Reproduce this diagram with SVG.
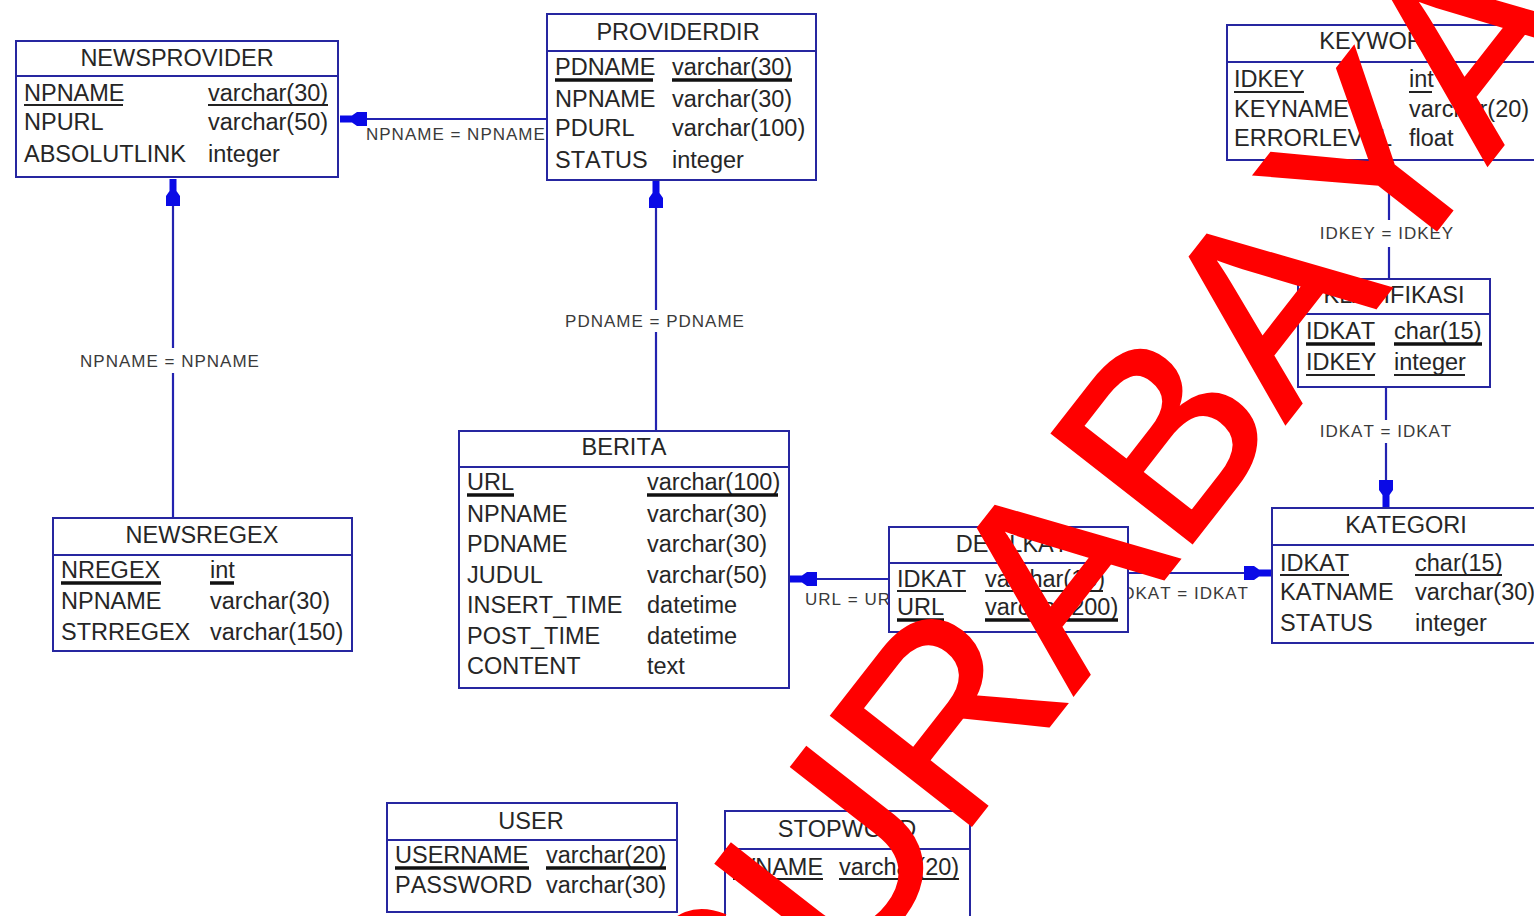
<svg xmlns="http://www.w3.org/2000/svg" width="1534" height="916" viewBox="0 0 1534 916">
  <defs>
    <style>
      text { font-kerning: none; }
      .box { fill: #ffffff; stroke: #2626a0; stroke-width: 2; }
      .sep { stroke: #2626a0; stroke-width: 2; }
      .t { font-family: "Liberation Sans", Arial, sans-serif; font-size: 23.5px; fill: #262626; }
      .title { text-anchor: middle; }
      .lbl { font-family: "Liberation Sans", Arial, sans-serif; font-size: 17px; letter-spacing: 1px; fill: #3a3a3a; }
      .mid { text-anchor: middle; }
      .end { text-anchor: end; }
      .pk { stroke: #111111; stroke-width: 3.5; }
      .ul { stroke: #222222; stroke-width: 2; }
      .conn { stroke: #2323b0; stroke-width: 2.2; fill: none; }
      .fkend { marker-end: url(#fkArrow); }
      .wm { font-family: "Liberation Sans", Arial, sans-serif; font-size: 258px; fill: #ff0000; stroke: #ff0000; stroke-width: 3; stroke-linejoin: miter; }
    </style>
    <!-- filled foreign-key end mark, drawn at the referenced table -->
    <marker id="fkArrow" viewBox="-28 -9 30 18" refX="0" refY="0" markerWidth="30" markerHeight="18" markerUnits="userSpaceOnUse" orient="auto">
      <path d="M-27,-7 L-17,-7 L-12,-3.5 L0,-3.5 L0,3.5 L-12,3.5 L-17,7 L-27,7 Z" fill="#0a0ae6"/>
    </marker>
  </defs>

  <rect width="1534" height="916" fill="#ffffff"/>

  <!-- relationships -->
  <g id="connectors">
    <path class="conn fkend" d="M547,119 L340,119"/>
    <text class="lbl" x="366" y="140">NPNAME = NPNAME</text>

    <path class="conn" d="M173,518 L173,373"/>
    <path class="conn fkend" d="M173,348 L173,179"/>
    <text class="lbl mid" x="170" y="367">NPNAME = NPNAME</text>

    <path class="conn" d="M656,431 L656,332"/>
    <path class="conn fkend" d="M656,310 L656,181"/>
    <text class="lbl mid" x="655" y="327">PDNAME = PDNAME</text>

    <path class="conn fkend" d="M889,579 L790,579"/>
    <text class="lbl" x="805" y="605">URL = URL</text>

    <path class="conn fkend" d="M1128,573 L1271,573"/>
    <text class="lbl end" x="1249" y="599">IDKAT = IDKAT</text>

    <path class="conn" d="M1389,279 L1389,247"/>
    <path class="conn fkend" d="M1389,220 L1389,161"/>
    <text class="lbl mid" x="1387" y="239">IDKEY = IDKEY</text>

    <path class="conn" d="M1386,388 L1386,420"/>
    <path class="conn fkend" d="M1386,443 L1386,507"/>
    <text class="lbl mid" x="1386" y="437">IDKAT = IDKAT</text>
  </g>

  <!-- tables -->
  <g id="newsprovider">
    <rect class="box" x="16" y="41" width="322" height="136"/>
    <line class="sep" x1="16" y1="76" x2="338" y2="76"/>
    <text class="t title" x="177" y="66">NEWSPROVIDER</text>
    <text class="t" x="24" y="101">NPNAME</text>
    <text class="t" x="208" y="101">varchar(30)</text>
    <line class="ul" x1="24" y1="105" x2="123" y2="105"/>
    <line class="ul" x1="208" y1="105" x2="328" y2="105"/>
    <text class="t" x="24" y="130">NPURL</text>
    <text class="t" x="208" y="130">varchar(50)</text>
    <text class="t" x="24" y="162">ABSOLUTLINK</text>
    <text class="t" x="208" y="162">integer</text>
  </g>

  <g id="providerdir">
    <rect class="box" x="547" y="14" width="269" height="166"/>
    <line class="sep" x1="547" y1="51" x2="816" y2="51"/>
    <text class="t title" x="678" y="40">PROVIDERDIR</text>
    <text class="t" x="555" y="75">PDNAME</text>
    <text class="t" x="672" y="75">varchar(30)</text>
    <line class="pk" x1="555" y1="80" x2="653" y2="80"/>
    <line class="pk" x1="672" y1="80" x2="792" y2="80"/>
    <text class="t" x="555" y="107">NPNAME</text>
    <text class="t" x="672" y="107">varchar(30)</text>
    <text class="t" x="555" y="136">PDURL</text>
    <text class="t" x="672" y="136">varchar(100)</text>
    <text class="t" x="555" y="168">STATUS</text>
    <text class="t" x="672" y="168">integer</text>
  </g>

  <g id="keyword">
    <rect class="box" x="1227" y="25" width="330" height="135"/>
    <line class="sep" x1="1227" y1="62" x2="1557" y2="62"/>
    <text class="t title" x="1380" y="49">KEYWORD</text>
    <text class="t" x="1234" y="87">IDKEY</text>
    <text class="t" x="1409" y="87">int</text>
    <line class="ul" x1="1234" y1="92" x2="1304" y2="92"/>
    <line class="ul" x1="1409" y1="92" x2="1432" y2="92"/>
    <text class="t" x="1234" y="117">KEYNAME</text>
    <text class="t" x="1409" y="117">varchar(20)</text>
    <text class="t" x="1234" y="146">ERRORLEVEL</text>
    <text class="t" x="1409" y="146">float</text>
  </g>

  <g id="klasifikasi">
    <rect class="box" x="1298" y="279" width="192" height="108"/>
    <line class="sep" x1="1298" y1="314" x2="1490" y2="314"/>
    <text class="t title" x="1394" y="303">KLASIFIKASI</text>
    <text class="t" x="1306" y="339">IDKAT</text>
    <text class="t" x="1394" y="339">char(15)</text>
    <line class="pk" x1="1306" y1="344" x2="1375" y2="344"/>
    <line class="pk" x1="1394" y1="344" x2="1482" y2="344"/>
    <text class="t" x="1306" y="370">IDKEY</text>
    <text class="t" x="1394" y="370">integer</text>
    <line class="ul" x1="1306" y1="375" x2="1375" y2="375"/>
    <line class="ul" x1="1394" y1="375" x2="1465" y2="375"/>
  </g>

  <g id="kategori">
    <rect class="box" x="1272" y="508" width="290" height="135"/>
    <line class="sep" x1="1272" y1="545" x2="1562" y2="545"/>
    <text class="t title" x="1406" y="533">KATEGORI</text>
    <text class="t" x="1280" y="571">IDKAT</text>
    <text class="t" x="1415" y="571">char(15)</text>
    <line class="ul" x1="1280" y1="575" x2="1349" y2="575"/>
    <line class="ul" x1="1415" y1="575" x2="1502" y2="575"/>
    <text class="t" x="1280" y="600">KATNAME</text>
    <text class="t" x="1415" y="600">varchar(30)</text>
    <text class="t" x="1280" y="631">STATUS</text>
    <text class="t" x="1415" y="631">integer</text>
  </g>

  <g id="berita">
    <rect class="box" x="459" y="431" width="330" height="257"/>
    <line class="sep" x1="459" y1="467" x2="789" y2="467"/>
    <text class="t title" x="624" y="455">BERITA</text>
    <text class="t" x="467" y="490">URL</text>
    <text class="t" x="647" y="490">varchar(100)</text>
    <line class="pk" x1="467" y1="495" x2="514" y2="495"/>
    <line class="pk" x1="647" y1="495" x2="778" y2="495"/>
    <text class="t" x="467" y="522">NPNAME</text>
    <text class="t" x="647" y="522">varchar(30)</text>
    <text class="t" x="467" y="552">PDNAME</text>
    <text class="t" x="647" y="552">varchar(30)</text>
    <text class="t" x="467" y="583">JUDUL</text>
    <text class="t" x="647" y="583">varchar(50)</text>
    <text class="t" x="467" y="613">INSERT_TIME</text>
    <text class="t" x="647" y="613">datetime</text>
    <text class="t" x="467" y="644">POST_TIME</text>
    <text class="t" x="647" y="644">datetime</text>
    <text class="t" x="467" y="674">CONTENT</text>
    <text class="t" x="647" y="674">text</text>
  </g>

  <g id="detilkat">
    <rect class="box" x="889" y="527" width="239" height="105"/>
    <line class="sep" x1="889" y1="563" x2="1128" y2="563"/>
    <text class="t title" x="1012" y="552">DETILKAT</text>
    <text class="t" x="897" y="587">IDKAT</text>
    <text class="t" x="985" y="587">varchar(15)</text>
    <line class="ul" x1="897" y1="591" x2="966" y2="591"/>
    <line class="ul" x1="985" y1="591" x2="1103" y2="591"/>
    <text class="t" x="897" y="615">URL</text>
    <text class="t" x="985" y="615">varchar(200)</text>
    <line class="pk" x1="897" y1="620" x2="944" y2="620"/>
    <line class="pk" x1="985" y1="620" x2="1118" y2="620"/>
  </g>

  <g id="newsregex">
    <rect class="box" x="53" y="518" width="299" height="133"/>
    <line class="sep" x1="53" y1="555" x2="352" y2="555"/>
    <text class="t title" x="202" y="543">NEWSREGEX</text>
    <text class="t" x="61" y="578">NREGEX</text>
    <text class="t" x="210" y="578">int</text>
    <line class="pk" x1="61" y1="583" x2="161" y2="583"/>
    <line class="pk" x1="210" y1="583" x2="234" y2="583"/>
    <text class="t" x="61" y="609">NPNAME</text>
    <text class="t" x="210" y="609">varchar(30)</text>
    <text class="t" x="61" y="640">STRREGEX</text>
    <text class="t" x="210" y="640">varchar(150)</text>
  </g>

  <g id="user">
    <rect class="box" x="387" y="803" width="290" height="109"/>
    <line class="sep" x1="387" y1="840" x2="677" y2="840"/>
    <text class="t title" x="531" y="829">USER</text>
    <text class="t" x="395" y="863">USERNAME</text>
    <text class="t" x="546" y="863">varchar(20)</text>
    <line class="pk" x1="395" y1="868" x2="529" y2="868"/>
    <line class="pk" x1="546" y1="868" x2="666" y2="868"/>
    <text class="t" x="395" y="893">PASSWORD</text>
    <text class="t" x="546" y="893">varchar(30)</text>
  </g>

  <g id="stopword">
    <rect class="box" x="725" y="811" width="245" height="130"/>
    <line class="sep" x1="725" y1="849" x2="970" y2="849"/>
    <text class="t title" x="847" y="837">STOPWORD</text>
    <text class="t" x="733" y="875">WNAME</text>
    <text class="t" x="839" y="875">varchar(20)</text>
    <line class="ul" x1="733" y1="879" x2="823" y2="879"/>
    <line class="ul" x1="839" y1="879" x2="959" y2="879"/>
  </g>

  <!-- red stamp across the sheet -->
  <text class="wm" transform="translate(738 1124) rotate(-52)" dx="0 0 0 0 0 0 0 -16">SURABAYA</text>
</svg>
